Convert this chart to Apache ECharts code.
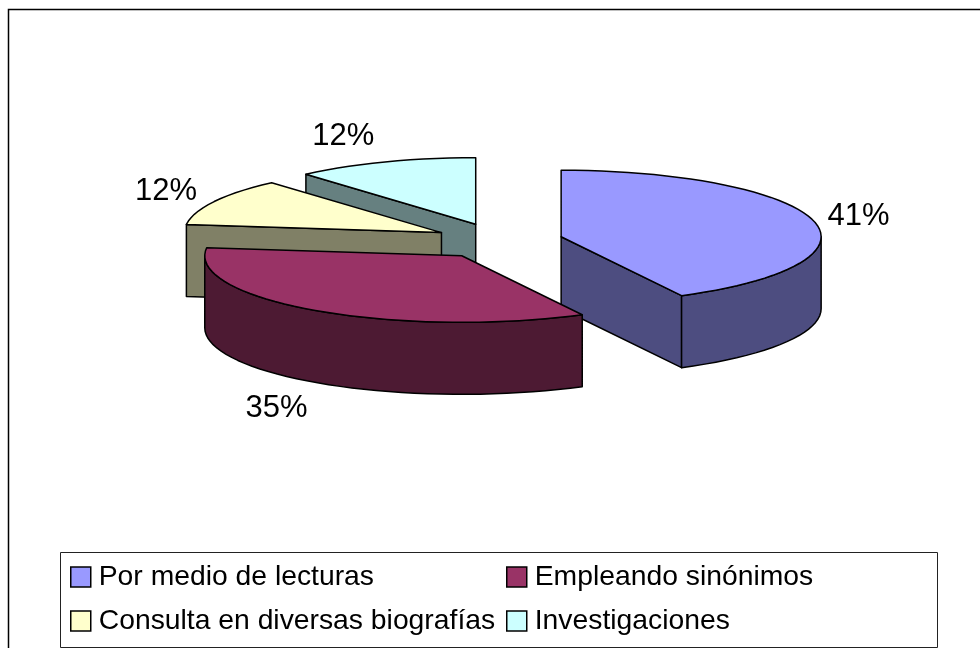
<!DOCTYPE html>
<html>
<head>
<meta charset="utf-8">
<style>html,body{margin:0;padding:0;background:#fff}#c{width:980px;height:648px}</style>
<script src="https://cdn.jsdelivr.net/npm/echarts@6/dist/echarts.min.js"></script>
</head>
<body>
<div id="c"></div>
<script>
// Data
const categories = ['Por medio de lecturas', 'Empleando sinónimos', 'Consulta en diversas biografías', 'Investigaciones'];
const percentages = [41, 35, 12, 12];

// Style
const topColors = ['#9999FF', '#993366', '#FFFFCC', '#CCFFFF'];
const sideColors = ['#4D4D80', '#4D1A33', '#808066', '#668080'];
const paintOrder = [2, 3, 1, 0];               // z of each slice
const labelNudges = [[7, -2], [-17, 54], [-14, -5], [-28, -16]];
const legendSlots = [[70, 563], [506, 563], [70, 607], [506, 607]];

// 3D pie projection
const PIE = { cx: 498.5, cy: 241, rxLeft: 257, rxRight: 260, ry: 66.5, depth: 72, ex: 64.5, ey: 18, skew: 5 };
const LABEL_FONT = '31px "Liberation Sans", Arial, sans-serif';
const rad = d => d * Math.PI / 180;
const total = percentages.reduce((a, b) => a + b, 0);
// the spreadsheet's 3D tilt slightly shears the angles of the projected circle
const toAngle = share => { const t = share / total * 360; return t + PIE.skew * Math.sin(rad(t / 2)); };

function pieRenderer(i) {
  return function (params, api) {
    const before = percentages.slice(0, i).reduce((a, b) => a + b, 0);
    const a = toAngle(before), b = toAngle(before + api.value(0));
    const mid = (a + b) / 2;
    const ox = PIE.cx + PIE.ex * Math.sin(rad(mid));
    const oy = PIE.cy - PIE.ey * Math.cos(rad(mid));
    const pt = (t, dz) => {
      const s = Math.sin(rad(t));
      return [ox + (s < 0 ? PIE.rxLeft : PIE.rxRight) * s, oy - PIE.ry * Math.cos(rad(t)) + (dz || 0)];
    };
    const arc = (from, to, dz) => {
      const out = [], n = Math.max(2, Math.ceil(Math.abs(to - from) / 3));
      for (let k = 0; k <= n; k++) out.push(pt(from + (to - from) * k / n, dz));
      return out;
    };
    const poly = (points, fill) => ({
      type: 'polygon', shape: { points },
      style: { fill, stroke: '#000', lineWidth: 1.5, lineJoin: 'round' }
    });
    const children = [];
    const apex = [ox, oy], apexLow = [ox, oy + PIE.depth];
    const cut = t => poly([apex, pt(t), pt(t, PIE.depth), apexLow], sideColors[i]);
    if (Math.sin(rad(a)) < -1e-6) children.push(cut(a));
    if (Math.sin(rad(b)) > 1e-6) children.push(cut(b));
    const w0 = Math.max(a, 90), w1 = Math.min(b, 270);
    if (w1 > w0) children.push(poly(arc(w0, w1, 0).concat(arc(w1, w0, PIE.depth)), sideColors[i]));
    children.push(poly([apex].concat(arc(a, b, 0)), topColors[i]));
    const lp = pt(mid);
    children.push({
      type: 'text',
      style: {
        text: api.value(0) + '%', font: LABEL_FONT, fill: '#000', align: 'center', verticalAlign: 'middle',
        x: ox + (lp[0] - ox) * 1.15 + labelNudges[i][0],
        y: oy + (lp[1] - oy) * 1.15 + labelNudges[i][1] + (Math.cos(rad(mid)) < -0.5 ? PIE.depth / 2 : 0)
      }
    });
    return { type: 'group', children };
  };
}

const chart = echarts.init(document.getElementById('c'), null, { renderer: 'canvas' });
chart.setOption({
  animation: false,
  backgroundColor: '#fff',
  graphic: [
    { type: 'rect', z: -1, shape: { x: 8.5, y: 9.5, width: 1000, height: 700 }, style: { fill: '#fff', stroke: '#000', lineWidth: 1.5 } },
    { type: 'rect', z: -1, shape: { x: 60.5, y: 552.5, width: 877, height: 95 }, style: { fill: '#fff', stroke: '#222', lineWidth: 1 } }
  ],
  legend: categories.map((name, i) => ({
    data: [name], left: legendSlots[i][0], top: legendSlots[i][1], padding: 0,
    itemWidth: 20, itemHeight: 20, icon: 'rect', selectedMode: false,
    itemStyle: { borderColor: '#000', borderWidth: 1.5 },
    textStyle: { fontFamily: '"Liberation Sans", Arial, sans-serif', fontSize: 28.3, color: '#000', padding: [0, 0, 0, 3] }
  })),
  series: categories.map((name, i) => ({
    type: 'custom', name, coordinateSystem: 'none', z: 2 + paintOrder[i], silent: true,
    itemStyle: { color: topColors[i] },
    data: [[percentages[i]]],
    renderItem: pieRenderer(i)
  }))
});
</script>
</body>
</html>
